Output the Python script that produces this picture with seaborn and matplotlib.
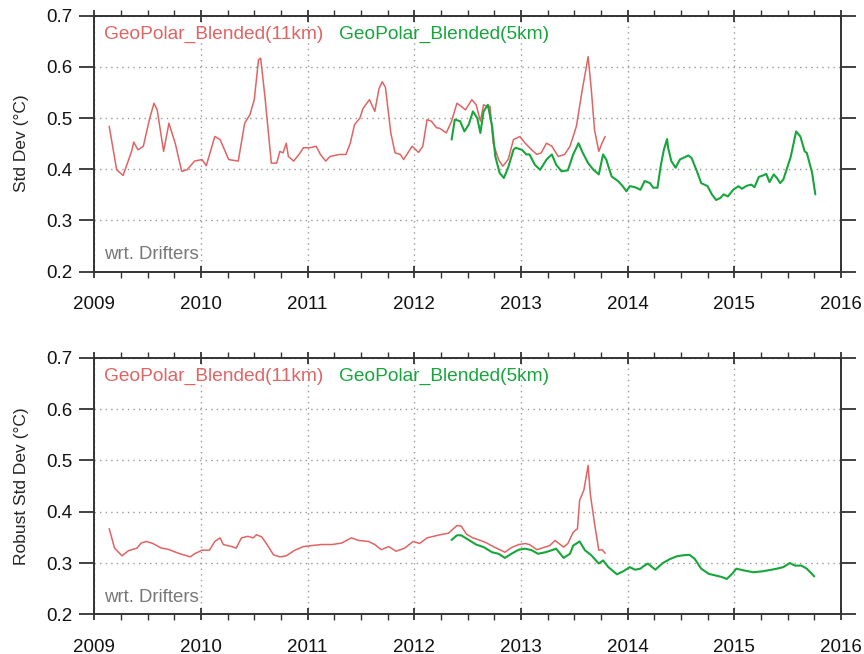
import numpy as np
import pandas as pd
import matplotlib
matplotlib.use("Agg")
import matplotlib.pyplot as plt
from matplotlib.ticker import MultipleLocator
import seaborn as sns

# ---------------- data (decimal years) ----------------
t_std_11 = [2009.14, 2009.21, 2009.27, 2009.35, 2009.37, 2009.41, 2009.46, 2009.52, 2009.56, 2009.59,
            2009.65, 2009.70, 2009.76, 2009.82, 2009.87, 2009.94, 2010.01, 2010.05, 2010.13, 2010.18,
            2010.26, 2010.35, 2010.41, 2010.46, 2010.50, 2010.54, 2010.56, 2010.60, 2010.66, 2010.71,
            2010.74, 2010.77, 2010.80, 2010.82, 2010.87, 2010.93, 2010.96, 2011.02, 2011.08, 2011.12,
            2011.17, 2011.21, 2011.30, 2011.36, 2011.40, 2011.44, 2011.49, 2011.52, 2011.58, 2011.63,
            2011.67, 2011.70, 2011.73, 2011.78, 2011.82, 2011.87, 2011.90, 2011.98, 2012.04, 2012.08,
            2012.12, 2012.16, 2012.21, 2012.24, 2012.30, 2012.35, 2012.40, 2012.44, 2012.48, 2012.54,
            2012.58, 2012.62, 2012.65, 2012.68, 2012.71, 2012.74, 2012.79, 2012.83, 2012.88, 2012.93,
            2012.99, 2013.04, 2013.10, 2013.15, 2013.19, 2013.24, 2013.29, 2013.35, 2013.41, 2013.46,
            2013.52, 2013.57, 2013.63, 2013.66, 2013.69, 2013.73, 2013.76, 2013.79]
v_std_11 = [0.484, 0.399, 0.388, 0.435, 0.453, 0.438, 0.445, 0.500, 0.529, 0.516,
            0.435, 0.490, 0.450, 0.396, 0.399, 0.416, 0.419, 0.407, 0.464, 0.458,
            0.419, 0.416, 0.490, 0.507, 0.536, 0.614, 0.617, 0.542, 0.412, 0.412,
            0.435, 0.432, 0.451, 0.425, 0.416, 0.432, 0.442, 0.442, 0.445, 0.429,
            0.416, 0.425, 0.429, 0.429, 0.451, 0.487, 0.500, 0.519, 0.536, 0.513,
            0.558, 0.571, 0.560, 0.471, 0.432, 0.429, 0.419, 0.445, 0.433, 0.445,
            0.497, 0.494, 0.481, 0.480, 0.471, 0.494, 0.529, 0.523, 0.516, 0.536,
            0.526, 0.494, 0.526, 0.523, 0.523, 0.451, 0.419, 0.406, 0.419, 0.458,
            0.464, 0.451, 0.438, 0.429, 0.432, 0.451, 0.445, 0.425, 0.429, 0.445,
            0.484, 0.549, 0.620, 0.555, 0.477, 0.435, 0.451, 0.464]

t_std_5 = [2012.35, 2012.38, 2012.43, 2012.47, 2012.51, 2012.55, 2012.59, 2012.62, 2012.65, 2012.69,
           2012.73, 2012.76, 2012.80, 2012.84, 2012.88, 2012.93, 2012.95, 2013.01, 2013.05, 2013.08,
           2013.13, 2013.18, 2013.24, 2013.29, 2013.33, 2013.38, 2013.44, 2013.49, 2013.54, 2013.58,
           2013.63, 2013.68, 2013.73, 2013.77, 2013.80, 2013.85, 2013.91, 2013.95, 2013.99, 2014.02,
           2014.07, 2014.12, 2014.16, 2014.21, 2014.24, 2014.28, 2014.31, 2014.34, 2014.37, 2014.38,
           2014.41, 2014.45, 2014.49, 2014.52, 2014.57, 2014.60, 2014.65, 2014.69, 2014.75, 2014.79,
           2014.83, 2014.87, 2014.90, 2014.94, 2014.99, 2015.04, 2015.07, 2015.12, 2015.16, 2015.19,
           2015.23, 2015.27, 2015.30, 2015.33, 2015.37, 2015.40, 2015.43, 2015.46, 2015.49, 2015.53,
           2015.58, 2015.62, 2015.66, 2015.68, 2015.73, 2015.76]
v_std_5 = [0.458, 0.497, 0.494, 0.474, 0.487, 0.513, 0.500, 0.471, 0.513, 0.526,
           0.484, 0.425, 0.393, 0.383, 0.403, 0.438, 0.442, 0.438, 0.429, 0.429,
           0.409, 0.399, 0.419, 0.429, 0.409, 0.396, 0.398, 0.429, 0.451, 0.432,
           0.412, 0.399, 0.390, 0.429, 0.419, 0.386, 0.377, 0.368, 0.357, 0.367,
           0.365, 0.360, 0.377, 0.373, 0.364, 0.364, 0.406, 0.438, 0.459, 0.442,
           0.416, 0.403, 0.419, 0.422, 0.427, 0.422, 0.396, 0.373, 0.367, 0.351,
           0.340, 0.344, 0.351, 0.347, 0.360, 0.367, 0.362, 0.368, 0.370, 0.365,
           0.385, 0.388, 0.391, 0.375, 0.390, 0.383, 0.373, 0.380, 0.399, 0.425,
           0.474, 0.464, 0.435, 0.432, 0.393, 0.351]

t_rob_11 = [2009.14, 2009.19, 2009.26, 2009.32, 2009.40, 2009.44, 2009.49, 2009.55, 2009.63, 2009.69,
            2009.79, 2009.90, 2009.94, 2010.01, 2010.08, 2010.13, 2010.18, 2010.21, 2010.29, 2010.33,
            2010.38, 2010.44, 2010.49, 2010.52, 2010.57, 2010.62, 2010.68, 2010.74, 2010.80, 2010.88,
            2010.96, 2011.04, 2011.13, 2011.23, 2011.32, 2011.41, 2011.48, 2011.57, 2011.63, 2011.69,
            2011.76, 2011.83, 2011.91, 2011.99, 2012.05, 2012.12, 2012.18, 2012.24, 2012.32, 2012.40,
            2012.44, 2012.49, 2012.55, 2012.62, 2012.68, 2012.74, 2012.80, 2012.85, 2012.91, 2012.98,
            2013.04, 2013.08, 2013.15, 2013.21, 2013.27, 2013.32, 2013.40, 2013.44, 2013.49, 2013.53,
            2013.55, 2013.59, 2013.63, 2013.65, 2013.69, 2013.73, 2013.76, 2013.79]
v_rob_11 = [0.367, 0.329, 0.314, 0.324, 0.329, 0.339, 0.342, 0.338, 0.329, 0.327,
            0.319, 0.312, 0.318, 0.325, 0.325, 0.342, 0.349, 0.336, 0.332, 0.329,
            0.349, 0.352, 0.349, 0.355, 0.351, 0.336, 0.316, 0.312, 0.314, 0.325,
            0.332, 0.334, 0.336, 0.336, 0.339, 0.349, 0.344, 0.342, 0.336, 0.326,
            0.332, 0.323, 0.329, 0.342, 0.338, 0.349, 0.352, 0.355, 0.358, 0.373,
            0.372, 0.356, 0.349, 0.344, 0.339, 0.332, 0.326, 0.321, 0.330, 0.336,
            0.338, 0.336, 0.326, 0.330, 0.334, 0.344, 0.331, 0.338, 0.360, 0.367,
            0.422, 0.442, 0.490, 0.435, 0.377, 0.325, 0.326, 0.319]

t_rob_5 = [2012.35, 2012.40, 2012.44, 2012.51, 2012.58, 2012.65, 2012.73, 2012.79, 2012.85, 2012.91,
           2012.98, 2013.04, 2013.10, 2013.16, 2013.23, 2013.29, 2013.33, 2013.40, 2013.46, 2013.49,
           2013.55, 2013.60, 2013.66, 2013.73, 2013.77, 2013.82, 2013.90, 2013.96, 2014.02, 2014.07,
           2014.12, 2014.15, 2014.19, 2014.26, 2014.33, 2014.40, 2014.46, 2014.52, 2014.58, 2014.63,
           2014.69, 2014.76, 2014.82, 2014.88, 2014.93, 2014.98, 2015.02, 2015.08, 2015.18, 2015.27,
           2015.35, 2015.40, 2015.46, 2015.52, 2015.57, 2015.63, 2015.68, 2015.75]
v_rob_5 = [0.345, 0.354, 0.354, 0.345, 0.336, 0.331, 0.321, 0.318, 0.310, 0.318,
           0.326, 0.328, 0.325, 0.318, 0.321, 0.325, 0.328, 0.310, 0.318, 0.334,
           0.342, 0.325, 0.315, 0.299, 0.305, 0.292, 0.278, 0.284, 0.292, 0.287,
           0.289, 0.294, 0.299, 0.287, 0.300, 0.308, 0.313, 0.315, 0.316, 0.308,
           0.289, 0.279, 0.276, 0.273, 0.269, 0.279, 0.289, 0.286, 0.282, 0.284,
           0.287, 0.289, 0.292, 0.300, 0.295, 0.295, 0.289, 0.274]

series_names = ["GeoPolar_Blended(11km)", "GeoPolar_Blended(5km)"]
y_labels = ["Std Dev (\u00b0C)", "Robust Std Dev (\u00b0C)"]
year_ticks = [2009, 2010, 2011, 2012, 2013, 2014, 2015, 2016]
y_ticks = [0.2, 0.3, 0.4, 0.5, 0.6, 0.7]
note = "wrt. Drifters"

RED = "#e06464"
GREEN = "#17a53c"

# ---------------- plotting ----------------
sns.set_style("white")
plt.rcParams["font.family"] = ["Liberation Sans", "DejaVu Sans"]

fig = plt.figure(figsize=(8.64, 6.54), dpi=100)
ax_top = fig.add_axes([0.1091, 0.5846, 0.8642, 0.3914])
ax_bot = fig.add_axes([0.1091, 0.0606, 0.8642, 0.3925])

panels = [
    (ax_top, t_std_11, v_std_11, t_std_5, v_std_5, y_labels[0]),
    (ax_bot, t_rob_11, v_rob_11, t_rob_5, v_rob_5, y_labels[1]),
]

for ax, t11, v11, t5, v5, ylab in panels:
    d11 = pd.DataFrame({"t": t11, "v": v11})
    d5 = pd.DataFrame({"t": t5, "v": v5})
    sns.lineplot(data=d11, x="t", y="v", ax=ax, color=RED, lw=1.1, estimator=None, sort=True)
    sns.lineplot(data=d5, x="t", y="v", ax=ax, color=GREEN, lw=1.5, estimator=None, sort=True)
    ax.set_xlim(2009, 2016)
    ax.set_ylim(0.2, 0.7)
    ax.set_xticks(year_ticks)
    ax.set_xticklabels([str(y) for y in year_ticks])
    ax.xaxis.set_minor_locator(MultipleLocator(0.25))
    ax.set_yticks(y_ticks)
    ax.set_yticklabels([f"{y:.1f}" for y in y_ticks])
    ax.set_xlabel("")
    ax.set_ylabel(ylab, fontsize=12.5, labelpad=12)
    ax.grid(True, which="major", color="#999999", linestyle=(0, (1, 3)), linewidth=1.0)
    for s in ax.spines.values():
        s.set_visible(True)
        s.set_color("#333333")
        s.set_linewidth(1.4)
    ax.tick_params(axis="x", which="major", direction="inout", length=9, width=1.3,
                   top=True, bottom=True, labelsize=13.5, pad=13, colors="#333333", labelcolor="#111111")
    ax.tick_params(axis="x", which="minor", direction="out", length=4, width=1.0,
                   top=True, bottom=True, colors="#333333")
    ax.tick_params(axis="y", which="major", direction="out", length=11, width=1.3,
                   left=True, right=True, labelsize=13.5, pad=5, colors="#333333", labelcolor="#111111")
    ax.text(0.013, 0.962, series_names[0], transform=ax.transAxes, color=RED,
            fontsize=13.8, ha="left", va="top")
    ax.text(0.3277, 0.962, series_names[1], transform=ax.transAxes, color=GREEN,
            fontsize=13.8, ha="left", va="top")
    ax.text(0.013, 0.033, note, transform=ax.transAxes, color="#777777",
            fontsize=13.4, ha="left", va="bottom")

fig.savefig("out.png", dpi=100)
